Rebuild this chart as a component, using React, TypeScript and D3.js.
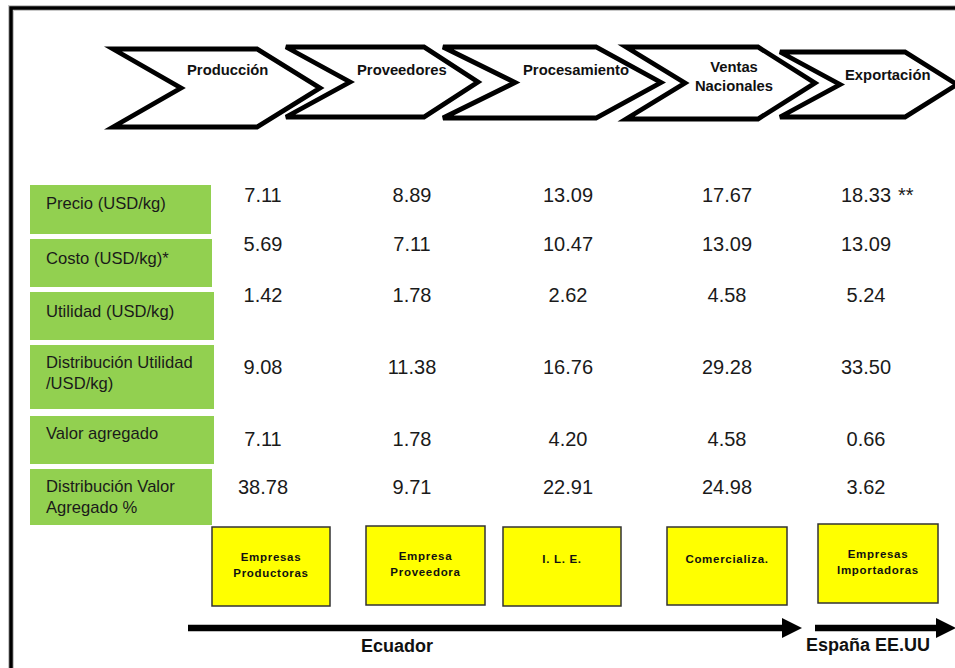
import React from "react";
import * as d3 from "d3";

// ---------- DATA ----------
const stages = ["Producción", "Proveedores", "Procesamiento", "Ventas Nacionales", "Exportación"];
const stageLines = [["Producción"], ["Proveedores"], ["Procesamiento"], ["Ventas", "Nacionales"], ["Exportación"]];

const rowLabels = [
  ["Precio (USD/kg)"],
  ["Costo (USD/kg)*"],
  ["Utilidad (USD/kg)"],
  ["Distribución Utilidad", "/USD/kg)"],
  ["Valor agregado"],
  ["Distribución Valor", "Agregado %"],
];

const precio = [7.11, 8.89, 13.09, 17.67, 18.33];
const costo = [5.69, 7.11, 10.47, 13.09, 13.09];
const utilidad = [1.42, 1.78, 2.62, 4.58, 5.24];
const distUtilidad = [9.08, 11.38, 16.76, 29.28, 33.5];
const valorAgregado = [7.11, 1.78, 4.2, 4.58, 0.66];
const distValor = [38.78, 9.71, 22.91, 24.98, 3.62];
const precioNotes = ["", "", "", "", "**"];

const actors = [
  ["Empresas", "Productoras"],
  ["Empresa", "Proveedora"],
  ["I. L. E."],
  ["Comercializa."],
  ["Empresas", "Importadoras"],
];

const regions = ["Ecuador", "España EE.UU"];

const series = [precio, costo, utilidad, distUtilidad, valorAgregado, distValor];

// ---------- LAYOUT ----------
const W = 955;
const H = 668;
const FONT = "'Liberation Sans', Arial, Helvetica, sans-serif";

const chevrons = [
  { x0: 113, notch: 181, x1: 257, tip: 320, y0: 49, y1: 127, tx: 187, ty: [75], anchor: "start" },
  { x0: 286, notch: 350, x1: 424, tip: 478, y0: 47, y1: 117, tx: 357, ty: [75], anchor: "start" },
  { x0: 443, notch: 515, x1: 596, tip: 661, y0: 47, y1: 118, tx: 523, ty: [75], anchor: "start" },
  { x0: 626, notch: 685, x1: 758, tip: 815, y0: 47, y1: 119, tx: 734, ty: [72, 91], anchor: "middle" },
  { x0: 780, notch: 840, x1: 905, tip: 957, y0: 52, y1: 117, tx: 845, ty: [80], anchor: "start" },
];

const greenBoxes = [
  { y: 185, h: 49, w: 181, ty: [209] },
  { y: 239, h: 48, w: 182, ty: [264] },
  { y: 292, h: 48, w: 184, ty: [317] },
  { y: 345, h: 64, w: 184, ty: [368, 389] },
  { y: 416, h: 48, w: 184, ty: [439] },
  { y: 469, h: 56, w: 182, ty: [492, 513] },
];

const yellowBoxes = [
  { x: 212, y: 527, w: 118, h: 79 },
  { x: 366, y: 526, w: 119, h: 79 },
  { x: 503, y: 527, w: 118, h: 79 },
  { x: 667, y: 527, w: 120, h: 78 },
  { x: 818, y: 524, w: 120, h: 79 },
];

const colX = d3.scaleOrdinal<string, number>().domain(stages).range([263, 412, 568, 727, 866]);
const rowY = d3
  .scaleOrdinal<number, number>()
  .domain(d3.range(series.length))
  .range([195, 244, 295, 367, 439, 487]);

const fmt = d3.format(".2f");

function chevronPath(c: typeof chevrons[number]) {
  const ym = (c.y0 + c.y1) / 2;
  const p = d3.path();
  p.moveTo(c.x0, c.y0);
  p.lineTo(c.x1, c.y0);
  p.lineTo(c.tip, ym);
  p.lineTo(c.x1, c.y1);
  p.lineTo(c.x0, c.y1);
  p.lineTo(c.notch, ym);
  p.closePath();
  return p.toString();
}

export default function App() {
  const arrowY = 628;
  const arrows = [
    { x0: 188, x1: 783, tip: 802 },
    { x0: 815, x1: 937, tip: 956 },
  ];
  return (
    <svg
      width={W}
      height={H}
      viewBox={`0 0 ${W} ${H}`}
      style={{ position: "absolute", left: 0, top: 0, background: "#fff" }}
      fontFamily={FONT}
    >
      <rect x={0} y={0} width={W} height={H} fill="#fff" />
      {/* outer frame */}
      <rect x={11} y={8} width={W + 20} height={H + 20} fill="none" stroke="#c8c8c8" strokeWidth={6} />
      <rect x={11} y={8} width={W + 20} height={H + 20} fill="none" stroke="#000" strokeWidth={3.5} />

      {/* chevrons */}
      {chevrons.map((c, i) => (
        <g key={stages[i]}>
          <path d={chevronPath(c)} fill="#fff" stroke="#000" strokeWidth={4.8} strokeLinejoin="miter" />
          {stageLines[i].map((t, j) => (
            <text
              key={j}
              x={c.tx}
              y={c.ty[j]}
              textAnchor={c.anchor as any}
              fontSize={14.8}
              fontWeight="bold"
              fill="#111"
            >
              {t}
            </text>
          ))}
        </g>
      ))}

      {/* green row labels */}
      {greenBoxes.map((b, i) => (
        <g key={i}>
          <rect x={30} y={b.y} width={b.w} height={b.h} fill="#92D050" />
          {rowLabels[i].map((t, j) => (
            <text key={j} x={46} y={b.ty[j]} fontSize={16.6} fill="#1a1a1a">
              {t}
            </text>
          ))}
        </g>
      ))}

      {/* values */}
      {series.map((s, r) =>
        s.map((v, c) => (
          <text
            key={`${r}-${c}`}
            x={colX(stages[c])}
            y={rowY(r) + 7}
            textAnchor="middle"
            fontSize={20}
            fill="#1a1a1a"
          >
            {fmt(v)}
          </text>
        ))
      )}
      {precioNotes.map((n, c) =>
        n ? (
          <text key={c} x={colX(stages[c]) + 32} y={rowY(0) + 7} fontSize={20} fill="#1a1a1a">
            {n}
          </text>
        ) : null
      )}

      {/* yellow actor boxes */}
      {yellowBoxes.map((b, i) => {
        const lines = actors[i];
        const first = b.y + (lines.length > 1 ? 34 : 35.5);
        return (
          <g key={i}>
            <rect x={b.x} y={b.y} width={b.w} height={b.h} fill="#FFFF00" stroke="#333" strokeWidth={1.5} />
            {lines.map((t, j) => (
              <text
                key={j}
                x={b.x + b.w / 2}
                y={first + j * 16}
                textAnchor="middle"
                fontSize={11.5}
                fontWeight="bold"
                letterSpacing={0.7}
                fill="#111"
              >
                {t}
              </text>
            ))}
          </g>
        );
      })}

      {/* arrows */}
      {arrows.map((a, i) => (
        <g key={i}>
          <line x1={a.x0} x2={a.x1} y1={arrowY} y2={arrowY} stroke="#000" strokeWidth={6.5} />
          <path
            d={`M${a.x1 - 1},${arrowY - 10}L${a.tip},${arrowY}L${a.x1 - 1},${arrowY + 10}Z`}
            fill="#000"
          />
        </g>
      ))}
      <text x={397} y={652} textAnchor="middle" fontSize={18} fontWeight="bold" fill="#111">
        {regions[0]}
      </text>
      <text x={806} y={651} fontSize={18} fontWeight="bold" fill="#111">
        {regions[1]}
      </text>
    </svg>
  );
}
